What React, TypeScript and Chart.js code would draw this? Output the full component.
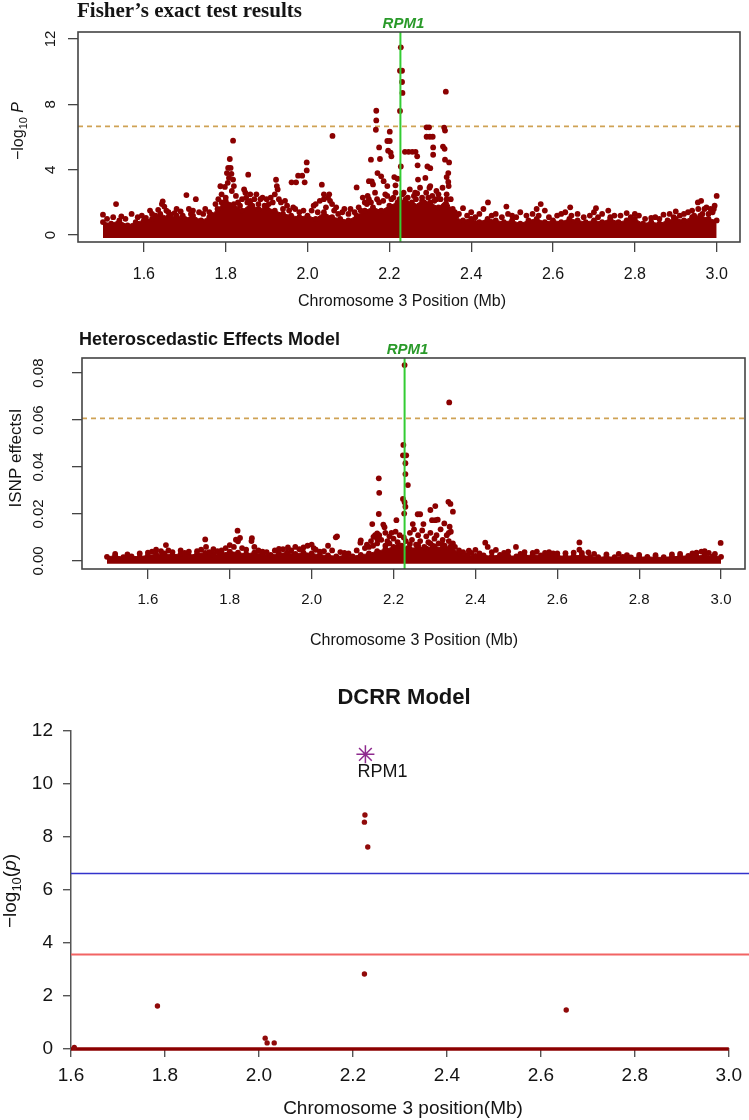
import React, { useEffect, useRef } from 'react';
import { Chart, registerables } from 'chart.js';

Chart.register(...registerables);

const DARK_RED = '#8B0000';
const AXIS = '#444444';
const TEXT = '#141414';
const THRESH = '#CFA255';
const GREEN_LINE = '#33CC33';
const GREEN_TEXT = '#2A9A2A';
const PURPLE = '#8E2A8E';
const SANS = '"Liberation Sans", Arial, Helvetica, sans-serif';
const SERIF = '"Liberation Serif", "Times New Roman", serif';

// ---------- shared ----------
const xTickValues = [1.6, 1.8, 2.0, 2.2, 2.4, 2.6, 2.8, 3.0];
const xTickLabels = ['1.6', '1.8', '2.0', '2.2', '2.4', '2.6', '2.8', '3.0'];
const rpm1Position = 2.227;

// ---------- panel 1: Fisher's exact test ----------
const fisherYTicks = [0, 4, 8, 12];
const fisherYTickLabels = ['0', '4', '8', '12'];
const fisherThreshold = 6.65;
const fisherBandFloor = -0.175;
const fisherBandX = [
  1.50, 1.52, 1.54, 1.56, 1.58, 1.60, 1.62, 1.64, 1.66, 1.68, 1.70, 1.72, 1.74, 1.76, 1.78, 1.80, 1.82, 1.84, 1.86,
  1.88, 1.90, 1.92, 1.94, 1.96, 1.98, 2.00, 2.02, 2.04, 2.06, 2.08, 2.10, 2.12, 2.14, 2.16, 2.18, 2.20, 2.22, 2.24,
  2.26, 2.28, 2.30, 2.32, 2.34, 2.36, 2.38, 2.40, 2.42, 2.44, 2.46, 2.48, 2.50, 2.52, 2.54, 2.56, 2.58, 2.60, 2.62,
  2.64, 2.66, 2.68, 2.70, 2.72, 2.74, 2.76, 2.78, 2.80, 2.82, 2.84, 2.86, 2.88, 2.90, 2.92, 2.94, 2.96, 2.98, 3.00,
];
const fisherBandTop = [
  0.8, 0.7, 0.9, 0.6, 0.8, 0.9, 1.0, 1.3, 1.1, 1.2, 1.0, 1.2, 0.9, 1.1, 1.6, 2.1, 1.9, 1.5, 1.9,
  1.6, 1.7, 1.5, 1.3, 1.2, 1.1, 1.2, 1.0, 1.4, 1.1, 1.0, 0.9, 1.2, 1.5, 1.7, 1.5, 1.8, 2.0, 2.2,
  1.8, 2.1, 2.0, 1.7, 2.2, 1.1, 0.9, 1.0, 0.8, 1.0, 0.9, 0.8, 0.9, 0.7, 0.9, 1.0, 0.8, 0.9, 0.8,
  1.0, 0.9, 0.8, 0.9, 0.8, 1.0, 0.8, 0.9, 1.0, 0.7, 0.8, 0.7, 0.9, 1.0, 0.9, 1.1, 1.2, 1.0, 0.9,
];
const fisherX = [
  2.228, 2.226, 2.231, 2.231, 2.232, 2.226, 2.338, 2.168, 2.168, 2.167, 2.201, 2.061, 1.818, 2.291, 2.297, 2.334,
  2.336, 2.291, 2.299, 2.306, 2.331, 2.335, 2.307, 2.238, 2.247, 2.256, 2.264, 2.268, 2.307, 2.195, 2.201, 2.197,
  2.203, 2.205, 2.175, 2.155, 2.177, 2.336, 2.346, 2.228, 2.269, 2.293, 2.300, 1.998, 1.998, 1.977, 1.987, 1.972,
  1.993, 2.035, 1.810, 1.806, 1.812, 1.803, 1.814, 1.808, 1.818, 1.805, 1.820, 1.798, 1.815, 1.855, 1.923, 1.925,
  1.927, 1.961, 2.120, 2.157, 2.171, 2.180, 2.186, 2.195, 2.212, 2.215, 2.220, 2.344, 2.344, 2.345, 2.340, 2.263,
  2.268, 2.288, 2.298, 2.315, 1.500, 1.532, 1.646, 1.644, 1.650, 1.704, 1.727, 1.787, 1.845, 1.850, 1.860, 1.870,
  1.885, 1.900, 1.935, 1.945, 2.040, 2.040, 2.070, 2.147, 2.150, 2.160, 2.150, 2.380, 2.441, 2.486, 2.570, 2.642,
  2.705, 2.735, 2.954, 2.962, 3.000, 2.985, 2.993, 2.840, 2.140, 2.165, 2.190, 2.205, 2.235, 2.245, 2.250, 2.255,
  2.275, 2.280, 2.285, 2.305, 2.310, 2.320, 2.325, 2.330, 2.350, 2.270, 2.300, 1.790, 1.800, 1.830, 1.860, 1.880,
  1.910, 1.920, 1.950, 1.970, 2.020, 2.050, 2.053, 2.060, 2.090, 1.750, 1.720, 1.680, 1.660, 1.570, 1.620, 2.370,
  2.400, 2.430, 2.460, 2.500, 2.520, 2.550, 2.580, 2.610, 2.630, 2.660, 2.690, 2.720, 2.750, 2.780, 2.810, 2.870,
  2.900, 2.920, 2.940, 2.970,
];
const fisherY = [
  11.49, 10.06, 10.06, 9.37, 8.70, 7.60, 8.78, 7.61, 7.02, 6.45, 6.33, 6.07, 5.78, 6.60, 6.60, 6.58,
  6.40, 6.02, 6.02, 6.02, 5.42, 5.28, 5.37, 5.10, 5.10, 5.10, 5.10, 4.82, 4.92, 5.76, 5.76, 5.17,
  5.05, 4.82, 5.37, 4.62, 4.66, 4.62, 4.45, 4.20, 4.27, 4.20, 4.10, 4.45, 3.96, 3.64, 3.64, 3.23,
  3.23, 3.09, 4.66, 4.11, 4.11, 3.80, 3.75, 3.50, 3.40, 3.20, 3.00, 2.95, 2.70, 3.70, 3.39, 3.00,
  2.80, 3.23, 2.92, 3.29, 3.80, 3.60, 3.30, 3.00, 3.55, 3.05, 3.45, 3.80, 3.25, 3.00, 3.55, 2.60,
  2.55, 3.50, 2.90, 2.70, 1.25, 1.90, 2.07, 1.90, 1.75, 2.45, 2.20, 2.99, 2.80, 2.30, 2.50, 2.20,
  2.20, 2.20, 2.00, 2.10, 2.50, 2.20, 1.70, 2.40, 2.20, 3.10, 3.30, 1.65, 2.00, 1.75, 1.90, 1.70,
  1.65, 1.50, 2.00, 2.10, 2.40, 1.60, 1.60, 1.05, 2.00, 2.60, 2.50, 2.20, 2.60, 2.30, 2.80, 2.00,
  2.90, 2.30, 2.00, 2.40, 2.10, 2.50, 2.20, 2.90, 2.20, 3.40, 3.00, 2.50, 2.30, 2.00, 2.10, 1.90,
  2.30, 2.50, 1.80, 1.60, 1.90, 2.30, 2.50, 1.90, 1.60, 1.60, 1.50, 1.60, 1.40, 1.30, 1.30, 1.30,
  1.40, 1.60, 1.30, 1.20, 1.40, 1.30, 1.50, 1.20, 1.40, 1.30, 1.20, 1.30, 1.20, 1.35, 1.20, 1.25,
  1.45, 1.30, 1.50, 1.60,
];
// the sparser points just above the dense band
const fisherLowX = [
  1.510, 1.525, 1.545, 1.555, 1.585, 1.595, 1.605, 1.615, 1.628, 1.635, 1.655, 1.665, 1.675, 1.690, 1.695, 1.710,
  1.715, 1.735, 1.745, 1.760, 1.765, 1.775, 1.782, 1.790, 1.795, 1.825, 1.835, 1.840, 1.848, 1.853, 1.865, 1.875,
  1.890, 1.895, 1.905, 1.915, 1.930, 1.940, 1.955, 1.965, 1.980, 1.990, 2.010, 2.015, 2.025, 2.030, 2.045, 2.055,
  2.065, 2.075, 2.085, 2.100, 2.105, 2.115, 2.125, 2.130, 2.135, 2.145, 2.155, 2.170, 2.175, 2.185, 2.195, 2.210,
  2.215, 2.225, 2.232, 2.240, 2.260, 2.265, 2.290, 2.295, 2.315, 2.340, 2.355, 2.360, 2.365, 2.390, 2.410, 2.420,
  2.450, 2.475, 2.490, 2.510, 2.535, 2.560, 2.565, 2.590, 2.620, 2.645, 2.675, 2.700, 2.710, 2.740, 2.765, 2.790,
  2.800, 2.825, 2.850, 2.860, 2.885, 2.895, 2.910, 2.930, 2.945, 2.955, 2.965, 2.975, 2.980, 2.990, 2.995,
];
const fisherLowY = [
  1.00, 1.10, 1.15, 1.00, 1.10, 1.20, 1.05, 1.50, 1.20, 1.55, 1.50, 1.25, 1.35, 1.45, 1.20, 1.60,
  1.30, 1.40, 1.30, 1.40, 1.25, 1.90, 2.20, 2.00, 1.80, 2.40, 1.80, 2.20, 2.60, 2.00, 1.80, 2.50,
  2.30, 1.80, 1.90, 2.00, 2.20, 1.60, 1.50, 1.70, 1.40, 1.50, 1.50, 1.80, 1.40, 2.10, 1.70, 2.10,
  1.50, 1.30, 1.40, 1.30, 1.60, 1.40, 1.70, 1.50, 2.30, 1.90, 2.00, 2.20, 2.00, 2.10, 2.40, 2.30,
  2.60, 2.20, 2.50, 2.00, 2.40, 2.20, 2.60, 2.30, 2.20, 2.50, 1.60, 1.40, 1.20, 1.20, 1.10, 1.30,
  1.20, 1.10, 1.30, 1.10, 1.20, 1.60, 1.20, 1.10, 1.30, 1.20, 1.10, 1.40, 1.10, 1.10, 1.20, 1.10,
  1.30, 1.00, 1.10, 1.00, 1.30, 1.10, 1.20, 1.40, 1.20, 1.60, 1.30, 1.70, 1.30, 1.40, 1.80,
];

// ---------- panel 2: Heteroscedastic Effects Model ----------
const hemYTicks = [0, 0.02, 0.04, 0.06, 0.08];
const hemYTickLabels = ['0.00', '0.02', '0.04', '0.06', '0.08'];
const hemThreshold = 0.0607;
const hemBandFloor = -0.0012;
const hemBandX = fisherBandX;
const hemBandTop = [
  0.0018, 0.0022, 0.0016, 0.0020, 0.0018, 0.0024, 0.0028, 0.0032, 0.0026, 0.0030, 0.0024, 0.0030, 0.0034, 0.0028, 0.0032,
  0.0040, 0.0036, 0.0030, 0.0036, 0.0030, 0.0026, 0.0032, 0.0036, 0.0030, 0.0036, 0.0032, 0.0026, 0.0024, 0.0020, 0.0022,
  0.0020, 0.0026, 0.0032, 0.0042, 0.0050, 0.0060, 0.0058, 0.0052, 0.0060, 0.0054, 0.0062, 0.0056, 0.0064, 0.0032, 0.0026,
  0.0022, 0.0024, 0.0020, 0.0026, 0.0022, 0.0020, 0.0022, 0.0026, 0.0024, 0.0028, 0.0022, 0.0020, 0.0022, 0.0024, 0.0018,
  0.0016, 0.0018, 0.0016, 0.0018, 0.0015, 0.0016, 0.0018, 0.0015, 0.0016, 0.0018, 0.0020, 0.0022, 0.0020, 0.0026, 0.0020,
  0.0018,
];
const hemX = [
  2.227, 2.336, 2.224, 2.223, 2.231, 2.229, 2.229, 2.235, 2.164, 2.165, 2.223, 2.227, 2.229, 2.164, 2.226, 2.259,
  2.265, 2.290, 2.302, 2.334, 2.339, 2.345, 2.294, 2.302, 2.308, 2.324, 2.337, 2.335, 2.273, 2.247, 2.148, 2.207,
  2.151, 2.155, 2.160, 2.195, 2.200, 2.205, 2.210, 2.215, 2.119, 2.059, 1.819, 1.815, 1.820, 1.853, 1.740, 2.424,
  2.384, 2.240, 2.245, 2.250, 2.255, 2.260, 2.265, 2.270, 2.275, 2.280, 2.285, 2.290, 2.295, 2.300, 2.305, 2.310,
  2.315, 2.320, 2.325, 2.330, 2.335, 2.340, 2.345, 2.350, 2.190, 2.185, 2.180, 2.175, 2.178, 2.170, 2.160, 2.150,
  2.140, 2.235, 2.230, 2.220, 2.225, 2.165, 1.644, 1.620, 1.632, 1.680, 1.742, 1.800, 1.825, 1.854, 1.860, 1.910,
  1.942, 1.960, 1.980, 1.990, 2.000, 2.005, 2.040, 2.062, 2.120, 2.130, 2.430, 2.450, 2.400, 2.499, 2.654, 2.654,
  2.676, 2.750, 2.952, 2.999, 2.570, 2.600, 2.520, 1.700, 1.760, 1.780, 1.880, 1.930, 2.020, 2.080,
];
const hemY = [
  0.0834, 0.0675, 0.0494, 0.0450, 0.0450, 0.0416, 0.0370, 0.0323, 0.0352, 0.0290, 0.0264, 0.0250, 0.0231, 0.0200, 0.0202, 0.0199,
  0.0199, 0.0217, 0.0234, 0.0252, 0.0243, 0.0210, 0.0174, 0.0174, 0.0176, 0.0160, 0.0146, 0.0120, 0.0157, 0.0157, 0.0157, 0.0174,
  0.0103, 0.0110, 0.0118, 0.0120, 0.0095, 0.0125, 0.0080, 0.0110, 0.0078, 0.0101, 0.0129, 0.0091, 0.0084, 0.0085, 0.0092, 0.0078,
  0.0044, 0.0120, 0.0090, 0.0135, 0.0070, 0.0110, 0.0085, 0.0130, 0.0060, 0.0105, 0.0080, 0.0120, 0.0065, 0.0095, 0.0110, 0.0075,
  0.0135, 0.0090, 0.0065, 0.0110, 0.0085, 0.0125, 0.0075, 0.0060, 0.0105, 0.0085, 0.0120, 0.0155, 0.0144, 0.0090, 0.0075, 0.0065,
  0.0060, 0.0055, 0.0085, 0.0065, 0.0100, 0.0110, 0.0068, 0.0048, 0.0042, 0.0045, 0.0060, 0.0068, 0.0098, 0.0097, 0.0060, 0.0045,
  0.0058, 0.0060, 0.0058, 0.0065, 0.0070, 0.0055, 0.0065, 0.0105, 0.0088, 0.0055, 0.0060, 0.0047, 0.0047, 0.0060, 0.0079, 0.0048,
  0.0037, 0.0030, 0.0040, 0.0077, 0.0035, 0.0032, 0.0038, 0.0040, 0.0050, 0.0045, 0.0040, 0.0050, 0.0040, 0.0035,
];
// the sparser points just above the dense band
const hemLowX = [
  1.520, 1.550, 1.580, 1.600, 1.610, 1.650, 1.660, 1.690, 1.720, 1.730, 1.750, 1.770, 1.790, 1.810, 1.830, 1.840,
  1.870, 1.890, 1.920, 1.950, 1.970, 2.010, 2.030, 2.050, 2.070, 2.090, 2.110, 2.135, 2.145, 2.160, 2.180, 2.190,
  2.210, 2.240, 2.260, 2.290, 2.320, 2.360, 2.370, 2.390, 2.410, 2.440, 2.470, 2.480, 2.510, 2.540, 2.550, 2.580,
  2.590, 2.620, 2.640, 2.660, 2.690, 2.720, 2.770, 2.800, 2.840, 2.880, 2.900, 2.930, 2.940, 2.960, 2.970, 2.985,
];
const hemLowY = [
  0.0030, 0.0028, 0.0032, 0.0036, 0.0040, 0.0045, 0.0038, 0.0035, 0.0042, 0.0048, 0.0038, 0.0042, 0.0055, 0.0060, 0.0055, 0.0048,
  0.0045, 0.0038, 0.0052, 0.0045, 0.0050, 0.0048, 0.0042, 0.0045, 0.0038, 0.0032, 0.0045, 0.0070, 0.0085, 0.0095, 0.0065, 0.0075,
  0.0058, 0.0072, 0.0068, 0.0075, 0.0070, 0.0045, 0.0038, 0.0035, 0.0032, 0.0038, 0.0034, 0.0040, 0.0030, 0.0035, 0.0040, 0.0038,
  0.0032, 0.0033, 0.0036, 0.0034, 0.0030, 0.0028, 0.0025, 0.0026, 0.0025, 0.0028, 0.0030, 0.0032, 0.0036, 0.0042, 0.0035, 0.0030,
];

// ---------- panel 3: DCRR Model ----------
const dcrrYTicks = [0, 2, 4, 6, 8, 10, 12];
const dcrrYTickLabels = ['0', '2', '4', '6', '8', '10', '12'];
const dcrrBonferroni = 6.62;
const dcrrSuggestive = 3.57;
const dcrrX = [2.2256, 2.2245, 2.2316, 2.2245, 1.784, 2.654, 2.0133, 2.0174, 2.0325, 1.607];
const dcrrY = [8.83, 8.56, 7.62, 2.83, 1.62, 1.47, 0.41, 0.23, 0.23, 0.06];
const dcrrTopX = [2.2266];
const dcrrTopY = [11.12];
const dcrrTopLabel = 'RPM1';
const dcrrNullX = [1.6, 3.0];
const dcrrNullY = [0.0, 0.0];

// ---------- helpers ----------
type Seg = { t: string; f: string; dy?: number };
function drawText(
  ctx: CanvasRenderingContext2D,
  segs: Seg[],
  x: number,
  y: number,
  opts: { rotate?: boolean; align?: 'left' | 'center'; color?: string } = {}
) {
  ctx.save();
  ctx.translate(x, y);
  if (opts.rotate) ctx.rotate(-Math.PI / 2);
  ctx.fillStyle = opts.color || TEXT;
  ctx.textBaseline = 'alphabetic';
  ctx.textAlign = 'left';
  let total = 0;
  for (const s of segs) {
    ctx.font = s.f;
    total += ctx.measureText(s.t).width;
  }
  let cx = opts.align === 'left' ? 0 : -total / 2;
  for (const s of segs) {
    ctx.font = s.f;
    ctx.fillText(s.t, cx, s.dy || 0);
    cx += ctx.measureText(s.t).width;
  }
  ctx.restore();
}

function pts(xs: number[], ys: number[]) {
  return xs.map((x, i) => ({ x, y: ys[i] }));
}

function fixedTicks(values: number[]) {
  return (scale: any) => {
    scale.ticks = values.map((v) => ({ value: v }));
  };
}

function hLine(ctx: CanvasRenderingContext2D, y: number, x0: number, x1: number, color: string, w: number, dash: number[] = []) {
  ctx.save();
  ctx.strokeStyle = color;
  ctx.lineWidth = w;
  ctx.setLineDash(dash);
  ctx.beginPath();
  ctx.moveTo(x0, y);
  ctx.lineTo(x1, y);
  ctx.stroke();
  ctx.restore();
}

const DOT = 2.9;

function bandDataset(xs: number[], ys: number[], floor: number) {
  return {
    type: 'line',
    data: pts(xs, ys),
    borderColor: DARK_RED,
    backgroundColor: DARK_RED,
    borderWidth: 1,
    fill: { value: floor },
    pointRadius: DOT,
    pointBackgroundColor: DARK_RED,
    pointBorderWidth: 0,
    tension: 0,
  };
}

function scatterDataset(xs: number[], ys: number[], r: number) {
  return {
    type: 'scatter',
    data: pts(xs, ys),
    pointRadius: r,
    backgroundColor: DARK_RED,
    borderWidth: 0,
  };
}

function rAxes(opts: {
  xmin: number; xmax: number; ymin: number; ymax: number; yTicks: number[];
  xHeight: number; yWidth: number; xFont: number; xPad: number;
}) {
  const grid = { drawOnChartArea: false, drawTicks: true, tickLength: 10, color: AXIS, lineWidth: 1.3 };
  return {
    x: {
      type: 'linear', min: opts.xmin, max: opts.xmax,
      afterBuildTicks: fixedTicks(xTickValues),
      afterFit: (s: any) => { s.height = opts.xHeight; },
      grid, border: { display: false },
      ticks: {
        autoSkip: false, maxRotation: 0, padding: opts.xPad, color: TEXT,
        font: { family: SANS, size: opts.xFont },
        callback: (_v: any, i: number) => xTickLabels[i],
      },
    },
    y: {
      type: 'linear', min: opts.ymin, max: opts.ymax,
      afterBuildTicks: fixedTicks(opts.yTicks),
      afterFit: (s: any) => { s.width = opts.yWidth; },
      grid, border: { display: false },
      ticks: { display: false },
    },
  };
}

function rDecor(cfg: {
  id: string; threshold: number; yTicks: number[]; yLabels: string[]; yLabelX: number; yLabelFont: number;
  title: Seg[]; titleX: number; titleY: number;
  yTitle: Seg[]; yTitleX: number; yTitleY: number;
  xTitle: string; xTitleFont: number; xTitleX: number; xTitleY: number;
}) {
  return {
    id: cfg.id,
    beforeDatasetsDraw(chart: any) {
      const { ctx, chartArea: a, scales } = chart;
      hLine(ctx, scales.y.getPixelForValue(cfg.threshold), a.left, a.right, THRESH, 1.8, [5, 4]);
    },
    afterDatasetsDraw(chart: any) {
      const { ctx, chartArea: a, scales } = chart;
      const gx = scales.x.getPixelForValue(rpm1Position);
      ctx.save();
      ctx.strokeStyle = GREEN_LINE;
      ctx.lineWidth = 2;
      ctx.beginPath();
      ctx.moveTo(gx, a.top);
      ctx.lineTo(gx, a.bottom);
      ctx.stroke();
      ctx.strokeStyle = AXIS;
      ctx.lineWidth = 1.6;
      ctx.strokeRect(a.left, a.top, a.right - a.left, a.bottom - a.top);
      ctx.restore();
      drawText(ctx, [{ t: 'RPM1', f: `bold italic 15px ${SANS}` }], gx + 3, a.top - 4.5, { color: GREEN_TEXT });
      cfg.yTicks.forEach((v, i) => {
        drawText(ctx, [{ t: cfg.yLabels[i], f: `${cfg.yLabelFont}px ${SANS}` }], cfg.yLabelX, scales.y.getPixelForValue(v), { rotate: true });
      });
      drawText(ctx, cfg.title, cfg.titleX, cfg.titleY, { align: 'left' });
      drawText(ctx, cfg.yTitle, cfg.yTitleX, cfg.yTitleY, { rotate: true });
      drawText(ctx, [{ t: cfg.xTitle, f: `${cfg.xTitleFont}px ${SANS}` }], cfg.xTitleX, cfg.xTitleY);
    },
  };
}

const baseOptions = {
  responsive: false,
  animation: false,
  events: [],
  plugins: { legend: { display: false }, tooltip: { enabled: false } },
};

function fisherConfig(): any {
  return {
    type: 'scatter',
    data: {
      datasets: [
        scatterDataset(fisherX, fisherY, DOT),
        scatterDataset(fisherLowX, fisherLowY, DOT),
        bandDataset(fisherBandX, fisherBandTop, fisherBandFloor),
      ],
    },
    options: {
      ...baseOptions,
      layout: { padding: { left: 0, right: 9, top: 32, bottom: 0 } },
      scales: rAxes({ xmin: 1.439, xmax: 3.057, ymin: -0.42, ymax: 12.43, yTicks: fisherYTicks, xHeight: 76, yWidth: 78, xFont: 16, xPad: 13 }),
    },
    plugins: [
      rDecor({
        id: 'fisherDecor', threshold: fisherThreshold, yTicks: fisherYTicks, yLabels: fisherYTickLabels, yLabelX: 55, yLabelFont: 15,
        title: [{ t: 'Fisher’s exact test results', f: `bold 21px ${SERIF}` }], titleX: 77, titleY: 17,
        yTitle: [
          { t: '−log', f: `16px ${SANS}` },
          { t: '10', f: `11px ${SANS}`, dy: 4 },
          { t: ' ', f: `16px ${SANS}` },
          { t: 'P', f: `italic 16px ${SANS}` },
        ],
        yTitleX: 23, yTitleY: 131,
        xTitle: 'Chromosome 3 Position (Mb)', xTitleFont: 16, xTitleX: 402, xTitleY: 306,
      }),
    ],
  };
}

function hemConfig(): any {
  return {
    type: 'scatter',
    data: {
      datasets: [
        scatterDataset(hemX, hemY, DOT),
        scatterDataset(hemLowX, hemLowY, DOT),
        bandDataset(hemBandX, hemBandTop, hemBandFloor),
      ],
    },
    options: {
      ...baseOptions,
      layout: { padding: { left: 0, right: 3, top: 40, bottom: 0 } },
      scales: rAxes({ xmin: 1.439, xmax: 3.0585, ymin: -0.0034, ymax: 0.0864, yTicks: hemYTicks, xHeight: 106, yWidth: 82, xFont: 15, xPad: 12 }),
    },
    plugins: [
      rDecor({
        id: 'hemDecor', threshold: hemThreshold, yTicks: hemYTicks, yLabels: hemYTickLabels, yLabelX: 43, yLabelFont: 15,
        title: [{ t: 'Heteroscedastic Effects Model', f: `bold 18px ${SANS}` }], titleX: 79, titleY: 27,
        yTitle: [{ t: 'ISNP effectsI', f: `17px ${SANS}` }],
        yTitleX: 21, yTitleY: 140,
        xTitle: 'Chromosome 3 Position (Mb)', xTitleFont: 16, xTitleX: 414, xTitleY: 327,
      }),
    ],
  };
}

const dcrrDecor = {
  id: 'dcrrDecor',
  beforeDatasetsDraw(chart: any) {
    const { ctx, chartArea: a, scales, width } = chart;
    hLine(ctx, scales.y.getPixelForValue(dcrrBonferroni), a.left, width, '#3333CC', 1.5);
    hLine(ctx, scales.y.getPixelForValue(dcrrSuggestive), a.left, width, '#F26464', 2);
  },
  afterDatasetsDraw(chart: any) {
    const { ctx, scales } = chart;
    const px = scales.x.getPixelForValue(dcrrTopX[0]);
    const py = scales.y.getPixelForValue(dcrrTopY[0]);
    drawText(ctx, [{ t: dcrrTopLabel, f: `18px ${SANS}` }], px + 17, py + 23);
    drawText(ctx, [{ t: 'DCRR Model', f: `bold 22px ${SANS}` }], 404, 29);
    drawText(ctx, [{ t: 'Chromosome 3 position(Mb)', f: `19px ${SANS}` }], 403, 439);
    drawText(
      ctx,
      [
        { t: '−log', f: `19px ${SANS}` },
        { t: '10', f: `13px ${SANS}`, dy: 5 },
        { t: '(', f: `19px ${SANS}` },
        { t: 'p', f: `italic 19px ${SANS}` },
        { t: ')', f: `19px ${SANS}` },
      ],
      16, 216, { rotate: true }
    );
  },
};

function dcrrConfig(): any {
  const grid = { drawOnChartArea: false, drawTicks: true, tickLength: 8, color: '#555555', lineWidth: 1.4 };
  const border = { display: true, color: '#555555', width: 1.5 };
  return {
    type: 'scatter',
    data: {
      datasets: [
        {
          type: 'scatter', data: pts(dcrrTopX, dcrrTopY), pointStyle: 'star', pointRadius: 9,
          borderColor: PURPLE, backgroundColor: PURPLE, borderWidth: 1.5, clip: false,
        },
        { type: 'scatter', data: pts(dcrrX, dcrrY), pointRadius: 2.7, backgroundColor: '#900A0A', borderWidth: 0, clip: false },
        {
          type: 'line', data: pts(dcrrNullX, dcrrNullY), borderColor: DARK_RED, borderWidth: 3.5,
          pointRadius: 0, fill: false, clip: false, borderCapStyle: 'butt',
        },
      ],
    },
    options: {
      ...baseOptions,
      layout: { padding: { left: 0, right: 14, top: 56, bottom: 0 } },
      scales: {
        x: {
          type: 'linear', min: 1.6, max: 3.0,
          afterBuildTicks: fixedTicks(xTickValues),
          afterFit: (s: any) => { s.height = 71; },
          grid, border,
          ticks: {
            autoSkip: false, maxRotation: 0, padding: 7, color: TEXT, font: { family: SANS, size: 19 },
            callback: (_v: any, i: number) => xTickLabels[i],
          },
        },
        y: {
          type: 'linear', min: 0, max: 12,
          afterBuildTicks: fixedTicks(dcrrYTicks),
          afterFit: (s: any) => { s.width = 71; },
          grid, border,
          ticks: {
            padding: 10, color: TEXT, font: { family: SANS, size: 19 },
            callback: (_v: any, i: number) => dcrrYTickLabels[i],
          },
        },
      },
    },
    plugins: [dcrrDecor],
  };
}

export default function App() {
  const c1 = useRef<HTMLCanvasElement>(null);
  const c2 = useRef<HTMLCanvasElement>(null);
  const c3 = useRef<HTMLCanvasElement>(null);
  useEffect(() => {
    const charts = [
      new Chart(c1.current as HTMLCanvasElement, fisherConfig()),
      new Chart(c2.current as HTMLCanvasElement, hemConfig()),
      new Chart(c3.current as HTMLCanvasElement, dcrrConfig()),
    ];
    return () => charts.forEach((c) => c.destroy());
  }, []);
  return (
    <div style={{ position: 'absolute', left: 0, top: 0, width: 749, height: 1120, background: '#ffffff' }}>
      <canvas ref={c1} width={749} height={318} style={{ position: 'absolute', left: 0, top: 0 }} />
      <canvas ref={c2} width={749} height={357} style={{ position: 'absolute', left: 0, top: 318 }} />
      <canvas ref={c3} width={749} height={445} style={{ position: 'absolute', left: 0, top: 675 }} />
    </div>
  );
}
